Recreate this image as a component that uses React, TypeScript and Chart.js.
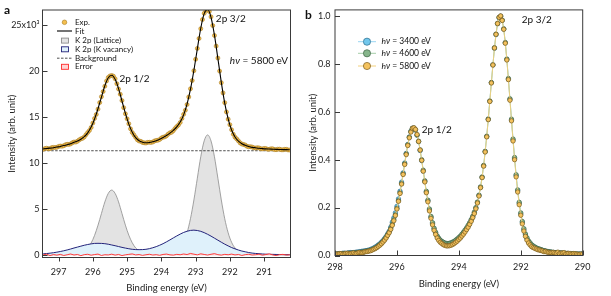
import React, { useEffect, useRef } from "react";
import { Chart, registerables } from "chart.js";

Chart.register(...registerables);

const FONT = "Lato, 'Open Sans', 'DejaVu Sans', sans-serif";
const INK = "#3a3a3a";

// ---------------- Panel a data ----------------
// model curves (fit and components)
const energyA = [
  297.45, 297.35, 297.25, 297.15, 297.05, 296.95, 296.85, 296.75, 296.65, 296.55,
  296.45, 296.35, 296.25, 296.15, 296.05, 295.95, 295.85, 295.75, 295.65, 295.55,
  295.45, 295.35, 295.25, 295.15, 295.05, 294.95, 294.85, 294.75, 294.65, 294.55,
  294.45, 294.35, 294.25, 294.15, 294.05, 293.95, 293.85, 293.75, 293.65, 293.55,
  293.45, 293.35, 293.25, 293.15, 293.05, 292.95, 292.85, 292.75, 292.65, 292.55,
  292.45, 292.35, 292.25, 292.15, 292.05, 291.95, 291.85, 291.75, 291.65, 291.55,
  291.45, 291.35, 291.25, 291.15, 291.05, 290.95, 290.85, 290.75, 290.65, 290.55,
  290.45, 290.35, 290.25,
];
const fitA = [
  11.55, 11.59, 11.63, 11.68, 11.75, 11.82, 11.91, 12.01, 12.12, 12.26,
  12.41, 12.6, 12.88, 13.29, 13.92, 14.8, 15.91, 17.17, 18.4, 19.27,
  19.55, 19.11, 18.1, 16.75, 15.4, 14.24, 13.36, 12.77, 12.44, 12.28,
  12.22, 12.25, 12.33, 12.44, 12.6, 12.78, 13.0, 13.26, 13.56, 13.94,
  14.46, 15.25, 16.41, 18.03, 20.09, 22.41, 24.65, 26.23, 26.7, 25.84,
  23.9, 21.36, 18.78, 16.53, 14.81, 13.6, 12.85, 12.39, 12.11, 11.94,
  11.81, 11.72, 11.67, 11.62, 11.58, 11.55, 11.54, 11.52, 11.5, 11.49,
  11.47, 11.47, 11.45,
];
const latticeA = [
  0.04, 0.05, 0.05, 0.05, 0.06, 0.06, 0.07, 0.08, 0.09, 0.12,
  0.17, 0.26, 0.44, 0.77, 1.33, 2.16, 3.26, 4.53, 5.79, 6.72,
  7.08, 6.72, 5.8, 4.54, 3.27, 2.18, 1.36, 0.8, 0.48, 0.31,
  0.22, 0.18, 0.16, 0.15, 0.16, 0.17, 0.19, 0.24, 0.32, 0.49,
  0.81, 1.42, 2.45, 3.98, 6.01, 8.37, 10.7, 12.42, 13.07, 12.41,
  10.69, 8.37, 6.01, 3.97, 2.44, 1.41, 0.8, 0.47, 0.3, 0.21,
  0.16, 0.13, 0.12, 0.1, 0.09, 0.08, 0.08, 0.07, 0.06, 0.06,
  0.05, 0.05, 0.04,
];
const vacancyA = [
  0.16, 0.19, 0.23, 0.28, 0.34, 0.41, 0.49, 0.58, 0.68, 0.79,
  0.89, 0.99, 1.09, 1.17, 1.24, 1.29, 1.3, 1.29, 1.26, 1.2,
  1.12, 1.04, 0.95, 0.86, 0.78, 0.71, 0.65, 0.62, 0.61, 0.62,
  0.65, 0.72, 0.82, 0.94, 1.09, 1.26, 1.46, 1.67, 1.89, 2.1,
  2.3, 2.48, 2.61, 2.7, 2.73, 2.69, 2.6, 2.46, 2.28, 2.08,
  1.86, 1.64, 1.42, 1.21, 1.02, 0.84, 0.7, 0.57, 0.46, 0.38,
  0.3, 0.24, 0.2, 0.17, 0.14, 0.12, 0.11, 0.1, 0.09, 0.08,
  0.07, 0.07, 0.06,
];
const errorA = [
  0.05, 0.12, -0.03, 0.08, 0.02, 0.1, -0.02, 0.06, 0.14, 0.03,
  0.09, -0.04, 0.07, 0.11, 0.01, 0.08, 0.13, -0.02, 0.06, 0.04,
  0.12, 0.02, 0.09, -0.03, 0.05, 0.1, 0.15, 0.04, 0.08, -0.01,
  0.06, 0.11, 0.03, 0.07, 0.0, 0.09, 0.13, 0.05, 0.02, 0.1,
  0.06, 0.14, 0.08, 0.2, 0.12, 0.05, 0.16, 0.09, 0.03, 0.11,
  0.18, 0.07, 0.02, 0.1, 0.06, 0.13, 0.04, 0.09, -0.02, 0.07,
  0.11, 0.03, 0.06, 0.12, 0.01, 0.08, 0.15, 0.04, -0.03, 0.07,
  0.1, 0.02, 0.06,
];
// measured points (denser sampling)
const energyExpA = [
  297.45, 297.4, 297.35, 297.3, 297.25, 297.2, 297.15, 297.1, 297.05, 297.0,
  296.95, 296.9, 296.85, 296.8, 296.75, 296.7, 296.65, 296.6, 296.55, 296.5,
  296.45, 296.4, 296.35, 296.3, 296.25, 296.2, 296.15, 296.1, 296.05, 296.0,
  295.95, 295.9, 295.85, 295.8, 295.75, 295.7, 295.65, 295.6, 295.55, 295.5,
  295.45, 295.4, 295.35, 295.3, 295.25, 295.2, 295.15, 295.1, 295.05, 295.0,
  294.95, 294.9, 294.85, 294.8, 294.75, 294.7, 294.65, 294.6, 294.55, 294.5,
  294.45, 294.4, 294.35, 294.3, 294.25, 294.2, 294.15, 294.1, 294.05, 294.0,
  293.95, 293.9, 293.85, 293.8, 293.75, 293.7, 293.65, 293.6, 293.55, 293.5,
  293.45, 293.4, 293.35, 293.3, 293.25, 293.2, 293.15, 293.1, 293.05, 293.0,
  292.95, 292.9, 292.85, 292.8, 292.75, 292.7, 292.65, 292.6, 292.55, 292.5,
  292.45, 292.4, 292.35, 292.3, 292.25, 292.2, 292.15, 292.1, 292.05, 292.0,
  291.95, 291.9, 291.85, 291.8, 291.75, 291.7, 291.65, 291.6, 291.55, 291.5,
  291.45, 291.4, 291.35, 291.3, 291.25, 291.2, 291.15, 291.1, 291.05, 291.0,
  290.95, 290.9, 290.85, 290.8, 290.75, 290.7, 290.65, 290.6, 290.55, 290.5,
  290.45, 290.4, 290.35, 290.3, 290.25,
];
const expA = [
  11.5, 11.59, 11.62, 11.57, 11.58, 11.69, 11.71, 11.7, 11.72, 11.82,
  11.86, 11.84, 11.89, 12.0, 12.05, 12.04, 12.09, 12.22, 12.3, 12.29,
  12.38, 12.53, 12.64, 12.7, 12.85, 13.1, 13.33, 13.55, 13.88, 14.36,
  14.86, 15.29, 15.87, 16.58, 17.22, 17.78, 18.36, 18.93, 19.31, 19.47,
  19.52, 19.45, 19.16, 18.63, 18.05, 17.49, 16.8, 16.03, 15.36, 14.82,
  14.28, 13.73, 13.33, 13.07, 12.8, 12.54, 12.41, 12.37, 12.25, 12.21,
  12.19, 12.26, 12.27, 12.25, 12.3, 12.41, 12.47, 12.49, 12.57, 12.73,
  12.82, 12.86, 12.97, 13.16, 13.3, 13.36, 13.53, 13.77, 13.98, 14.15,
  14.42, 14.85, 15.3, 15.74, 16.37, 17.19, 18.08, 18.97, 20.04, 21.28,
  22.46, 23.54, 24.6, 25.59, 26.27, 26.59, 26.66, 26.47, 25.89, 24.94,
  23.86, 22.71, 21.41, 20.0, 18.74, 17.63, 16.57, 15.56, 14.78, 14.18,
  13.63, 13.14, 12.82, 12.63, 12.42, 12.2, 12.08, 12.03, 11.97, 11.83,
  11.78, 11.79, 11.75, 11.67, 11.64, 11.68, 11.66, 11.57, 11.55, 11.6,
  11.59, 11.51, 11.51, 11.56, 11.56, 11.48, 11.47, 11.52, 11.52, 11.46,
  11.45, 11.5, 11.5, 11.44, 11.43,
];
const bgEnergyA = [297.45, 290.25];
const bgA = [11.35, 11.35];
const xTicksA = [297, 296, 295, 294, 293, 292, 291];
const yTicksA = [0, 5, 10, 15, 20, 25];
const yTickLabelsA = ["0", "5", "10", "15", "20", "25x10³"];

// ---------------- Panel b data ----------------
const energyB = [
  298.0, 297.95, 297.9, 297.85, 297.8, 297.75, 297.7, 297.65, 297.6, 297.55,
  297.5, 297.45, 297.4, 297.35, 297.3, 297.25, 297.2, 297.15, 297.1, 297.05,
  297.0, 296.95, 296.9, 296.85, 296.8, 296.75, 296.7, 296.65, 296.6, 296.55,
  296.5, 296.45, 296.4, 296.35, 296.3, 296.25, 296.2, 296.15, 296.1, 296.05,
  296.0, 295.95, 295.9, 295.85, 295.8, 295.75, 295.7, 295.65, 295.6, 295.55,
  295.5, 295.45, 295.4, 295.35, 295.3, 295.25, 295.2, 295.15, 295.1, 295.05,
  295.0, 294.95, 294.9, 294.85, 294.8, 294.75, 294.7, 294.65, 294.6, 294.55,
  294.5, 294.45, 294.4, 294.35, 294.3, 294.25, 294.2, 294.15, 294.1, 294.05,
  294.0, 293.95, 293.9, 293.85, 293.8, 293.75, 293.7, 293.65, 293.6, 293.55,
  293.5, 293.45, 293.4, 293.35, 293.3, 293.25, 293.2, 293.15, 293.1, 293.05,
  293.0, 292.95, 292.9, 292.85, 292.8, 292.75, 292.7, 292.65, 292.6, 292.55,
  292.5, 292.45, 292.4, 292.35, 292.3, 292.25, 292.2, 292.15, 292.1, 292.05,
  292.0, 291.95, 291.9, 291.85, 291.8, 291.75, 291.7, 291.65, 291.6, 291.55,
  291.5, 291.45, 291.4, 291.35, 291.3, 291.25, 291.2, 291.15, 291.1, 291.05,
  291.0, 290.95, 290.9, 290.85, 290.8, 290.75, 290.7, 290.65, 290.6, 290.55,
  290.5, 290.45, 290.4, 290.35, 290.3, 290.25, 290.2, 290.15, 290.1, 290.05,
  290.0,
];
const int3400 = [
  0.006, 0.007, 0.008, 0.005, 0.007, 0.009, 0.01, 0.008, 0.01, 0.011,
  0.012, 0.012, 0.012, 0.013, 0.014, 0.015, 0.016, 0.017, 0.018, 0.019,
  0.02, 0.021, 0.023, 0.025, 0.028, 0.031, 0.035, 0.039, 0.044, 0.049,
  0.055, 0.062, 0.07, 0.079, 0.09, 0.101, 0.118, 0.139, 0.157, 0.178,
  0.205, 0.236, 0.268, 0.306, 0.345, 0.386, 0.426, 0.463, 0.494, 0.517,
  0.531, 0.532, 0.524, 0.502, 0.475, 0.438, 0.396, 0.352, 0.309, 0.265,
  0.228, 0.19, 0.16, 0.133, 0.111, 0.094, 0.079, 0.069, 0.061, 0.056,
  0.052, 0.049, 0.047, 0.047, 0.048, 0.05, 0.053, 0.056, 0.061, 0.066,
  0.072, 0.078, 0.086, 0.094, 0.103, 0.112, 0.123, 0.134, 0.147, 0.161,
  0.178, 0.198, 0.221, 0.25, 0.285, 0.326, 0.374, 0.433, 0.496, 0.568,
  0.644, 0.721, 0.795, 0.865, 0.922, 0.967, 0.993, 0.999, 0.982, 0.945,
  0.887, 0.818, 0.736, 0.651, 0.565, 0.482, 0.404, 0.333, 0.27, 0.218,
  0.173, 0.138, 0.107, 0.086, 0.069, 0.057, 0.048, 0.041, 0.036, 0.033,
  0.03, 0.027, 0.024, 0.022, 0.021, 0.019, 0.018, 0.016, 0.015, 0.014,
  0.013, 0.012, 0.012, 0.011, 0.01, 0.01, 0.01, 0.009, 0.009, 0.008,
  0.008, 0.008, 0.007, 0.006, 0.007, 0.007, 0.006, 0.005, 0.006, 0.006,
  0.006,
];
const int4600 = [
  0.005, 0.004, 0.006, 0.007, 0.007, 0.008, 0.008, 0.006, 0.008, 0.01,
  0.009, 0.009, 0.01, 0.011, 0.012, 0.01, 0.012, 0.014, 0.015, 0.016,
  0.018, 0.019, 0.02, 0.022, 0.025, 0.028, 0.031, 0.035, 0.041, 0.046,
  0.052, 0.059, 0.067, 0.076, 0.087, 0.098, 0.113, 0.13, 0.149, 0.17,
  0.197, 0.229, 0.262, 0.3, 0.341, 0.383, 0.424, 0.462, 0.494, 0.518,
  0.53, 0.531, 0.524, 0.503, 0.477, 0.441, 0.4, 0.356, 0.312, 0.268,
  0.231, 0.194, 0.163, 0.137, 0.114, 0.097, 0.082, 0.072, 0.064, 0.059,
  0.055, 0.052, 0.05, 0.05, 0.051, 0.053, 0.056, 0.059, 0.064, 0.069,
  0.075, 0.081, 0.089, 0.097, 0.106, 0.115, 0.126, 0.137, 0.15, 0.164,
  0.181, 0.2, 0.223, 0.252, 0.286, 0.328, 0.376, 0.435, 0.498, 0.57,
  0.645, 0.722, 0.796, 0.867, 0.924, 0.969, 0.993, 0.998, 0.982, 0.946,
  0.889, 0.82, 0.739, 0.654, 0.569, 0.486, 0.409, 0.337, 0.274, 0.222,
  0.178, 0.142, 0.112, 0.09, 0.074, 0.061, 0.053, 0.045, 0.04, 0.036,
  0.032, 0.029, 0.027, 0.025, 0.022, 0.02, 0.019, 0.017, 0.016, 0.015,
  0.014, 0.013, 0.012, 0.012, 0.012, 0.011, 0.01, 0.01, 0.009, 0.009,
  0.009, 0.008, 0.008, 0.007, 0.007, 0.006, 0.006, 0.006, 0.005, 0.005,
  0.005,
];
const int5800 = [
  0.007, 0.006, 0.006, 0.008, 0.008, 0.005, 0.006, 0.009, 0.009, 0.007,
  0.008, 0.01, 0.011, 0.008, 0.009, 0.012, 0.013, 0.011, 0.012, 0.015,
  0.016, 0.017, 0.019, 0.02, 0.023, 0.026, 0.029, 0.033, 0.038, 0.043,
  0.049, 0.056, 0.064, 0.073, 0.084, 0.095, 0.109, 0.126, 0.145, 0.167,
  0.194, 0.226, 0.259, 0.298, 0.338, 0.38, 0.421, 0.459, 0.491, 0.515,
  0.531, 0.533, 0.526, 0.505, 0.476, 0.44, 0.397, 0.352, 0.307, 0.262,
  0.224, 0.186, 0.155, 0.128, 0.105, 0.088, 0.073, 0.063, 0.055, 0.05,
  0.045, 0.042, 0.04, 0.04, 0.041, 0.043, 0.046, 0.05, 0.055, 0.06,
  0.067, 0.073, 0.081, 0.089, 0.098, 0.108, 0.118, 0.13, 0.143, 0.158,
  0.175, 0.195, 0.219, 0.248, 0.283, 0.325, 0.373, 0.432, 0.495, 0.567,
  0.643, 0.72, 0.795, 0.866, 0.923, 0.968, 0.994, 1.0, 0.981, 0.944,
  0.886, 0.816, 0.734, 0.648, 0.562, 0.478, 0.4, 0.328, 0.265, 0.212,
  0.168, 0.132, 0.102, 0.08, 0.064, 0.052, 0.044, 0.037, 0.033, 0.03,
  0.027, 0.024, 0.023, 0.021, 0.019, 0.016, 0.017, 0.014, 0.013, 0.012,
  0.012, 0.013, 0.011, 0.01, 0.014, 0.008, 0.01, 0.011, 0.012, 0.007,
  0.008, 0.009, 0.007, 0.006, 0.008, 0.007, 0.006, 0.005, 0.005, 0.006,
  0.006,
];
const xTicksB = [298, 296, 294, 292, 290];
const yTicksB = [0, 0.2, 0.4, 0.6, 0.8, 1.0];
const seriesLabelsB = ["3400", "4600", "5800"];

const pts = (xs: number[], ys: number[]) => xs.map((x, i) => ({ x, y: ys[i] }));

// ---------------- drawing helpers ----------------
function txt(ctx: CanvasRenderingContext2D, s: string, x: number, y: number, font: string, align: CanvasTextAlign = "left", color = "#111") {
  ctx.save();
  ctx.font = font;
  ctx.fillStyle = color;
  ctx.textAlign = align;
  ctx.textBaseline = "middle";
  ctx.fillText(s, x, y);
  ctx.restore();
}

function hvText(ctx: CanvasRenderingContext2D, value: string, x: number, y: number, size: number) {
  ctx.save();
  ctx.fillStyle = "#111";
  ctx.textBaseline = "middle";
  ctx.textAlign = "left";
  ctx.font = `italic ${size}px ${FONT}`;
  ctx.fillText("hν", x, y);
  const w = ctx.measureText("hν").width;
  ctx.font = `${size}px ${FONT}`;
  ctx.fillText(` = ${value} eV`, x + w, y);
  ctx.restore();
}

function frameAndTicks(chart: any, xDir: number, xLen: number, yLen: number) {
  const { ctx, chartArea: ca } = chart;
  const xs = chart.scales.x;
  const ys = chart.scales.y;
  ctx.save();
  ctx.strokeStyle = INK;
  ctx.lineWidth = 1;
  ctx.strokeRect(ca.left, ca.top, ca.right - ca.left, ca.bottom - ca.top);
  ctx.beginPath();
  xs.ticks.forEach((t: any) => {
    const px = Math.round(xs.getPixelForValue(t.value)) + 0.5;
    ctx.moveTo(px, ca.bottom);
    ctx.lineTo(px, ca.bottom + xDir * xLen);
  });
  ys.ticks.forEach((t: any) => {
    const py = Math.round(ys.getPixelForValue(t.value)) + 0.5;
    ctx.moveTo(ca.left, py);
    ctx.lineTo(ca.left + yLen, py);
  });
  ctx.stroke();
  ctx.restore();
}

const panelAPlugin = {
  id: "panelA",
  afterDraw(chart: any) {
    const { ctx } = chart;
    const xs = chart.scales.x;
    const ys = chart.scales.y;
    frameAndTicks(chart, 1, 4, 5);
    txt(ctx, "a", 4, 10, `bold 12px ${FONT}`);
    txt(ctx, "2p 1/2", xs.getPixelForValue(295.22), ys.getPixelForValue(19.14), `10px ${FONT}`);
    txt(ctx, "2p 3/2", xs.getPixelForValue(292.41), ys.getPixelForValue(25.65), `10px ${FONT}`);
    hvText(ctx, "5800", xs.getPixelForValue(292.0), ys.getPixelForValue(21.1), 10);

    // legend
    const sx = 64.5;
    const tx = 75;
    const rows = [22.3, 31, 40.6, 49.3, 58.2, 66.8];
    const lf = `8px ${FONT}`;
    ctx.save();
    ctx.beginPath();
    ctx.arc(sx, rows[0], 2.3, 0, Math.PI * 2);
    ctx.fillStyle = "#f4bf4f";
    ctx.fill();
    ctx.strokeStyle = "#a87c22";
    ctx.lineWidth = 0.6;
    ctx.stroke();
    ctx.beginPath();
    ctx.moveTo(57, rows[1]);
    ctx.lineTo(72, rows[1]);
    ctx.strokeStyle = "#000";
    ctx.lineWidth = 1.1;
    ctx.stroke();
    const box = (y: number, fill: string, stroke: string) => {
      ctx.fillStyle = fill;
      ctx.fillRect(61.5, y - 2.5, 7, 5);
      ctx.strokeStyle = stroke;
      ctx.lineWidth = 0.9;
      ctx.strokeRect(61.5, y - 2.5, 7, 5);
    };
    box(rows[2], "#e3e3e3", "#8c8c8c");
    box(rows[3], "#dff1fb", "#23237a");
    ctx.beginPath();
    ctx.setLineDash([2.5, 1.5]);
    ctx.moveTo(57, rows[4]);
    ctx.lineTo(72, rows[4]);
    ctx.strokeStyle = "#222";
    ctx.lineWidth = 0.8;
    ctx.stroke();
    ctx.setLineDash([]);
    box(rows[5], "#ffd3d3", "#ff2a2a");
    ctx.restore();
    const labels = ["Exp.", "Fit", "K 2p (Lattice)", "K 2p (K vacancy)", "Background", "Error"];
    labels.forEach((l, i) => txt(ctx, l, tx, rows[i], lf));
  },
};

const panelBPlugin = {
  id: "panelB",
  afterDraw(chart: any) {
    const { ctx } = chart;
    const xs = chart.scales.x;
    const ys = chart.scales.y;
    frameAndTicks(chart, -1, 5, 5);
    txt(ctx, "b", 5, 15, `bold 12px ${FONT}`);
    txt(ctx, "2p 1/2", xs.getPixelForValue(295.2), ys.getPixelForValue(0.526), `10px ${FONT}`);
    txt(ctx, "2p 3/2", xs.getPixelForValue(291.97), ys.getPixelForValue(0.983), `10px ${FONT}`);
    const rows = [41.7, 53.3, 66];
    const fills = ["#72c7ec", "#86b58b", "#f4c25e"];
    const lines = ["#9ad6f2", "#a5cda8", "#f3d07d"];
    const edges = ["#2f6f8c", "#3f6345", "#7a5c1c"];
    ctx.save();
    rows.forEach((y, i) => {
      ctx.beginPath();
      ctx.moveTo(58, y);
      ctx.lineTo(76, y);
      ctx.strokeStyle = lines[i];
      ctx.lineWidth = 1;
      ctx.stroke();
      ctx.beginPath();
      ctx.arc(67, y, 3.6, 0, Math.PI * 2);
      ctx.fillStyle = fills[i];
      ctx.fill();
      ctx.strokeStyle = edges[i];
      ctx.lineWidth = 0.7;
      ctx.stroke();
    });
    ctx.restore();
    rows.forEach((y, i) => hvText(ctx, seriesLabelsB[i], 81.5, y, 8.5));
  },
};

const tickFont = { family: FONT, size: 9 };
const titleFont = { family: FONT, size: 9.5 };

function configA(): any {
  return {
    type: "line",
    data: {
      datasets: [
        { label: "Fit", data: pts(energyA, fitA), borderColor: "#000", borderWidth: 1.1, pointRadius: 0, cubicInterpolationMode: "monotone", fill: false, order: 0 },
        { label: "Exp.", data: pts(energyExpA, expA), showLine: false, pointRadius: 2.0, pointBackgroundColor: "#f4bf4f", pointBorderColor: "#a87c22", pointBorderWidth: 0.6, order: 1 },
        { label: "Error", data: pts(energyA, errorA), borderColor: "#ff2a2a", borderWidth: 0.9, backgroundColor: "#ffd3d3", fill: "origin", pointRadius: 0, order: 2 },
        { label: "Background", data: pts(bgEnergyA, bgA), borderColor: "#222", borderWidth: 0.8, borderDash: [2.5, 1.5], pointRadius: 0, fill: false, order: 3 },
        { label: "K 2p (K vacancy)", data: pts(energyA, vacancyA), borderColor: "#23237a", borderWidth: 1, backgroundColor: "#dff1fb", fill: "origin", pointRadius: 0, cubicInterpolationMode: "monotone", order: 4 },
        { label: "K 2p (Lattice)", data: pts(energyA, latticeA), borderColor: "#8c8c8c", borderWidth: 0.8, backgroundColor: "#e3e3e3", fill: "origin", pointRadius: 0, cubicInterpolationMode: "monotone", order: 5 },
      ],
    },
    options: {
      responsive: false,
      animation: false,
      devicePixelRatio: 1,
      events: [],
      layout: { padding: { left: 0, right: 9.5, top: 10, bottom: 0 } },
      plugins: { legend: { display: false }, tooltip: { enabled: false } },
      scales: {
        x: {
          type: "linear",
          reverse: true,
          min: 290.23,
          max: 297.47,
          afterBuildTicks: (s: any) => { s.ticks = xTicksA.map((v) => ({ value: v })); },
          afterFit: (s: any) => { s.height = 38.5; },
          grid: { display: false, drawTicks: false },
          border: { display: false },
          ticks: { padding: 9, color: "#222", font: tickFont, maxRotation: 0, callback: (v: number) => String(v) },
          title: { display: true, text: "Binding energy (eV)", color: "#222", font: titleFont, padding: { top: 0, bottom: 2.3 } },
        },
        y: {
          type: "linear",
          min: -0.24,
          max: 26.63,
          afterBuildTicks: (s: any) => { s.ticks = yTicksA.map((v) => ({ value: v })); },
          afterFit: (s: any) => { s.width = 42.5; },
          grid: { display: false, drawTicks: false },
          border: { display: false },
          ticks: { padding: 3, color: "#222", font: tickFont, callback: (v: number) => yTickLabelsA[yTicksA.indexOf(v)] ?? String(v) },
          title: { display: true, text: "Intensity (arb. unit)", color: "#222", font: titleFont, padding: { top: 6.3, bottom: 0 } },
        },
      },
    },
    plugins: [panelAPlugin],
  };
}

function configB(): any {
  const series = (data: number[], label: string, line: string, fill: string, edge: string, order: number) => ({
    label,
    data: pts(energyB, data),
    borderColor: line,
    borderWidth: 0.9,
    pointRadius: 2.2,
    pointBackgroundColor: fill,
    pointBorderColor: edge,
    pointBorderWidth: 0.7,
    tension: 0,
    fill: false,
    order,
  });
  return {
    type: "line",
    data: {
      datasets: [
        series(int5800, "hν = 5800 eV", "#f3d07d", "#f4c25e", "#7a5c1c", 0),
        series(int4600, "hν = 4600 eV", "#a5cda8", "#86b58b", "#3f6345", 1),
        series(int3400, "hν = 3400 eV", "#9ad6f2", "#72c7ec", "#2f6f8c", 2),
      ],
    },
    options: {
      responsive: false,
      animation: false,
      devicePixelRatio: 1,
      events: [],
      layout: { padding: { left: 0, right: 28.3, top: 9, bottom: 0 } },
      plugins: { legend: { display: false }, tooltip: { enabled: false } },
      scales: {
        x: {
          type: "linear",
          reverse: true,
          min: 290,
          max: 298,
          afterBuildTicks: (s: any) => { s.ticks = xTicksB.map((v) => ({ value: v })); },
          afterFit: (s: any) => { s.height = 40.5; },
          grid: { display: false, drawTicks: false },
          border: { display: false },
          ticks: { padding: 6.6, color: "#222", font: tickFont, maxRotation: 0, callback: (v: number) => String(v) },
          title: { display: true, text: "Binding energy (eV)", color: "#222", font: titleFont, padding: { top: 0, bottom: 6.8 } },
        },
        y: {
          type: "linear",
          min: 0,
          max: 1.025,
          afterBuildTicks: (s: any) => { s.ticks = yTicksB.map((v) => ({ value: v })); },
          afterFit: (s: any) => { s.width = 35; },
          grid: { display: false, drawTicks: false },
          border: { display: false },
          ticks: { padding: 4.5, color: "#222", font: tickFont, callback: (v: number) => v.toFixed(1) },
          title: { display: true, text: "Intensity (arb. unit)", color: "#222", font: titleFont, padding: { top: 7.3, bottom: 0 } },
        },
      },
    },
    plugins: [panelBPlugin],
  };
}

export default function App() {
  const refA = useRef<HTMLCanvasElement>(null);
  const refB = useRef<HTMLCanvasElement>(null);
  useEffect(() => {
    const a = new Chart(refA.current as HTMLCanvasElement, configA());
    const b = new Chart(refB.current as HTMLCanvasElement, configB());
    return () => {
      a.destroy();
      b.destroy();
    };
  }, []);
  return (
    <div style={{ position: "absolute", left: 0, top: 0, width: 611, height: 296, background: "#fff" }}>
      <canvas ref={refA} width={300} height={296} style={{ position: "absolute", left: 0, top: 0, width: 300, height: 296 }} />
      <canvas ref={refB} width={311} height={296} style={{ position: "absolute", left: 300, top: 0, width: 311, height: 296 }} />
    </div>
  );
}
